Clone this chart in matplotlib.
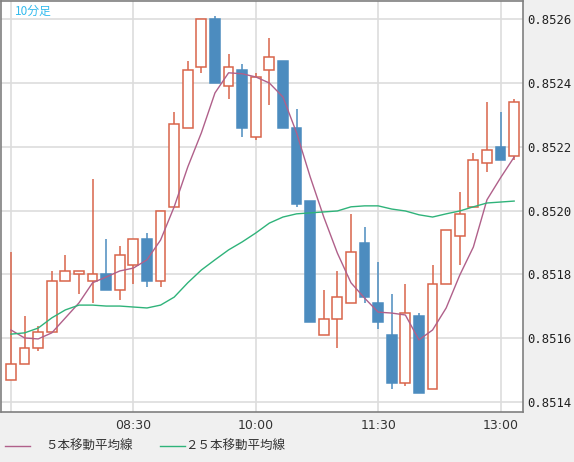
import matplotlib
matplotlib.use("Agg")
import matplotlib.pyplot as plt
from matplotlib.lines import Line2D
from matplotlib.patches import Rectangle

opens  = [85147,85152,85157,85162,85178,85180,85178,85180,85175,85183,85191,85178,85201,85226,85245,85260,85239,85244,85223,85244,
          85247,85226,85203,85161,85166,85171,85190,85171,85161,85146,85167,85144,85177,85192,85201,85215,85220,85217]
highs  = [85187,85167,85164,85181,85186,85181,85210,85191,85189,85191,85193,85200,85231,85247,85260,85261,85249,85246,85243,85254,
          85247,85232,85203,85175,85181,85199,85195,85184,85174,85177,85168,85183,85194,85206,85218,85234,85231,85235]
lows   = [85147,85152,85156,85162,85178,85174,85171,85175,85172,85177,85176,85176,85201,85226,85243,85240,85235,85223,85222,85233,
          85226,85201,85165,85161,85157,85171,85171,85163,85144,85145,85143,85144,85177,85183,85201,85212,85216,85216]
closes = [85152,85157,85162,85178,85181,85181,85180,85175,85186,85191,85178,85200,85227,85244,85260,85240,85245,85226,85242,85248,
          85226,85202,85165,85166,85173,85187,85173,85165,85146,85168,85143,85177,85194,85199,85216,85219,85216,85234]
ma5  = [85162.6,85160.1,85159.8,85161.7,85166.4,85171.1,85177.4,85179.2,85181.1,85182.0,85184.6,85190.8,85201.2,85213.7,85224.4,
        85236.9,85243.2,85242.9,85241.9,85240.0,85235.6,85224.4,85210.6,85198.0,85186.7,85177.4,85172.6,85168.2,85167.9,85167.3,
        85159.5,85162.6,85169.5,85179.8,85188.6,85203.4,85210.3,85216.8]
ma25 = [85161.3,85161.7,85163.2,85166.4,85168.9,85170.4,85170.4,85170.1,85170.1,85169.8,85169.5,85170.4,85172.9,85177.4,85181.4,
        85184.6,85187.7,85190.2,85193.0,85196.1,85198.0,85199.0,85199.3,85199.6,85199.9,85201.2,85201.5,85201.5,85200.5,85199.9,
        85198.7,85198.0,85199.0,85199.9,85201.2,85202.4,85202.7,85203.0]
xtick_idx = [0, 9, 18, 27, 36]
xtick_labels = ["", "08:30", "10:00", "11:30", "13:00"]
yticks = [0.8514, 0.8516, 0.8518, 0.8520, 0.8522, 0.8524, 0.8526]

S = 1e5
UP = "#d8644a"; DN = "#4c8cbf"
W, H = 574, 462
fig = plt.figure(figsize=(W/100, H/100), dpi=100, facecolor="#f0f0f0")
ax = fig.add_axes([1/W, 1-412/H, 522/W, 411/H])
ax.set_facecolor("white")
for s in ax.spines.values():
    s.set_color("#808080"); s.set_linewidth(1.2)

bw = 0.72
for i in range(len(opens)):
    o, h, l, c = opens[i]/S, highs[i]/S, lows[i]/S, closes[i]/S
    up = c >= o
    col = UP if up else DN
    ax.vlines(i, l, h, color=col, lw=1.1, zorder=3)
    lo, hi = min(o, c), max(o, c)
    ax.add_patch(Rectangle((i-bw/2, lo), bw, max(hi-lo, 0.000002),
                           facecolor="white" if up else DN, edgecolor=col, lw=1.1, zorder=4))

xs = list(range(len(ma5)))
ax.plot(xs, [v/S for v in ma5], color="#b0608a", lw=1.0, zorder=5)
ax.plot(xs, [v/S for v in ma25], color="#2fb37a", lw=1.0, zorder=5)

ax.set_xlim(-0.735, 37.65)
ax.set_ylim(0.851369, 0.852657)
ax.set_xticks(xtick_idx)
ax.set_xticklabels(xtick_labels, fontsize=9, color="#333333")
ax.set_yticks(yticks)
ax.set_yticklabels([f"{v:.4f}" for v in yticks], fontsize=8.8, family="DejaVu Sans Mono", color="#222222")
ax.yaxis.tick_right()
ax.tick_params(axis="y", length=0, pad=3)
ax.tick_params(axis="x", length=0, pad=5)
ax.grid(True, color="#dddddd", lw=1.2, zorder=0)
ax.set_axisbelow(True)

ax.text(14/522, 1-10/411, "10分足", transform=ax.transAxes, color="#33bbee", fontsize=8.5,
        family=["Noto Sans CJK JP", "DejaVu Sans"], va="center", ha="left")

fig.add_artist(Line2D([5/W, 30/W], [1-446/H]*2, color="#b0608a", lw=1.0))
fig.text(45/W, 1-446/H, "５本移動平均線", fontsize=9, family=["Noto Sans CJK JP", "DejaVu Sans"],
         va="center", color="#333333")
fig.add_artist(Line2D([160/W, 185/W], [1-446/H]*2, color="#2fb37a", lw=1.0))
fig.text(185/W, 1-446/H, "２５本移動平均線", fontsize=9, family=["Noto Sans CJK JP", "DejaVu Sans"],
         va="center", color="#333333")

fig.savefig("out.png", dpi=100, facecolor=fig.get_facecolor())
